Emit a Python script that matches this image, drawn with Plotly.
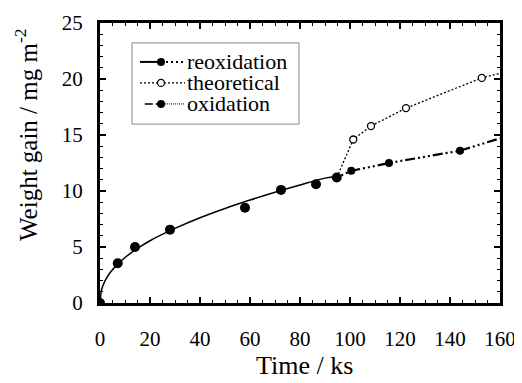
import plotly.graph_objects as go

# Oxidation data (filled circles)
ox_x = [0, 7.1, 14.0, 28.0, 58.0, 72.4, 86.4, 94.7]
ox_y = [0, 3.55, 5.0, 6.55, 8.5, 10.1, 10.6, 11.2]

# Oxidation fitted curve
fit_x = [0, 0.5, 1, 2, 4, 7, 10, 15, 20, 30, 40, 50, 60, 70, 80, 90, 94.7]
fit_y = [0, 1.05, 1.44, 1.97, 2.70, 3.45, 4.06, 4.87, 5.56, 6.66, 7.61, 8.44, 9.19, 9.89, 10.54, 11.15, 11.3]

# Reoxidation
re_x = [94.7, 100.5, 115.6, 144.0, 160.0]
re_y = [11.2, 11.8, 12.5, 13.6, 14.7]
re_marker = [True, True, True, True, False]

# Theoretical
th_x = [94.7, 101.3, 108.4, 122.4, 152.7, 160.0]
th_y = [11.2, 14.6, 15.8, 17.4, 20.1, 20.5]
th_marker = [False, True, True, True, True, False]

x_ticks = [0, 20, 40, 60, 80, 100, 120, 140, 160]
y_ticks = [0, 5, 10, 15, 20, 25]

legend_names = ["reoxidation", "theoretical", "oxidation"]

FONT = "Liberation Serif"

fig = go.Figure()

# theoretical
fig.add_trace(go.Scatter(
    x=th_x, y=th_y, mode="lines", line=dict(color="black", width=1.3, dash="2px,2px"),
    showlegend=False, hoverinfo="skip"))
fig.add_trace(go.Scatter(
    x=[x for x, m in zip(th_x, th_marker) if m], y=[y for y, m in zip(th_y, th_marker) if m],
    mode="markers", marker=dict(symbol="circle", size=7, color="white", line=dict(color="black", width=1.3)),
    showlegend=False))

# reoxidation
fig.add_trace(go.Scatter(
    x=re_x, y=re_y, mode="lines",
    line=dict(color="black", width=2.2, dash="2px,3px,2px,3px,2px,3px,10px,3px"),
    showlegend=False, hoverinfo="skip"))
fig.add_trace(go.Scatter(
    x=[x for x, m in zip(re_x, re_marker) if m], y=[y for y, m in zip(re_y, re_marker) if m],
    mode="markers", marker=dict(symbol="circle", size=8, color="black"), showlegend=False))

# oxidation
fig.add_trace(go.Scatter(
    x=fit_x, y=fit_y, mode="lines", line=dict(color="black", width=1.5, shape="spline"),
    showlegend=False, hoverinfo="skip"))
fig.add_trace(go.Scatter(
    x=ox_x, y=ox_y, mode="markers", marker=dict(symbol="circle", size=10, color="black"),
    showlegend=False))

# ---- manual legend (overlay axes spanning the plot area) ----
leg_y = [0.861, 0.786, 0.711]
sx0, sxm, sx1 = 0.10, 0.1525, 0.2125
fig.add_trace(go.Scatter(x=[sx0, sxm], y=[leg_y[0]] * 2, xaxis="x2", yaxis="y2", mode="lines",
                         line=dict(color="black", width=2), showlegend=False, hoverinfo="skip"))
fig.add_trace(go.Scatter(x=[sxm, sx1], y=[leg_y[0]] * 2, xaxis="x2", yaxis="y2", mode="lines",
                         line=dict(color="black", width=2, dash="2px,3px"), showlegend=False, hoverinfo="skip"))
fig.add_trace(go.Scatter(x=[sxm], y=[leg_y[0]], xaxis="x2", yaxis="y2", mode="markers",
                         marker=dict(symbol="circle", size=8, color="black"), showlegend=False, hoverinfo="skip"))
fig.add_trace(go.Scatter(x=[sx0, sx1], y=[leg_y[1]] * 2, xaxis="x2", yaxis="y2", mode="lines",
                         line=dict(color="black", width=1.2, dash="2px,2px"), showlegend=False, hoverinfo="skip"))
fig.add_trace(go.Scatter(x=[sxm], y=[leg_y[1]], xaxis="x2", yaxis="y2", mode="markers",
                         marker=dict(symbol="circle", size=7, color="white", line=dict(color="black", width=1.3)),
                         showlegend=False, hoverinfo="skip"))
fig.add_trace(go.Scatter(x=[sx0 + 0.012, sxm], y=[leg_y[2]] * 2, xaxis="x2", yaxis="y2", mode="lines",
                         line=dict(color="black", width=1.5, dash="8px,3px"), showlegend=False, hoverinfo="skip"))
fig.add_trace(go.Scatter(x=[sxm, sx1], y=[leg_y[2]] * 2, xaxis="x2", yaxis="y2", mode="lines",
                         line=dict(color="black", width=1, dash="1px,1px"), showlegend=False, hoverinfo="skip"))
fig.add_trace(go.Scatter(x=[sxm], y=[leg_y[2]], xaxis="x2", yaxis="y2", mode="markers",
                         marker=dict(symbol="circle", size=8, color="black"), showlegend=False, hoverinfo="skip"))

for name, yy in zip(legend_names, leg_y):
    fig.add_annotation(text=name, xref="paper", yref="paper", x=0.213, y=yy,
                       xanchor="left", yanchor="middle", showarrow=False,
                       font=dict(size=22, color="black"))

fig.add_shape(type="rect", xref="paper", yref="paper", x0=0.08, x1=0.4975, y0=0.639, y1=0.929,
              line=dict(color="#888", width=1), fillcolor="rgba(0,0,0,0)", layer="below")

axis_common = dict(
    showgrid=False, zeroline=False, showline=True, linecolor="black", linewidth=3,
    mirror="ticks", ticks="inside", ticklen=6, tickwidth=1.5, tickcolor="black",
    tickfont=dict(size=21, color="black"), automargin=False,
)

xaxis = dict(**axis_common, domain=[0, 1], range=[0, 160], tickvals=x_ticks,
             ticktext=[str(v) for v in x_ticks], ticklabelstandoff=15,
             minor=dict(dtick=5, ticks="inside", ticklen=3, tickwidth=1.2, tickcolor="black"))
yaxis = dict(**axis_common, domain=[0, 1], range=[0, 25], tickvals=y_ticks,
             ticktext=[str(v) for v in y_ticks], ticklabelstandoff=10,
             minor=dict(dtick=1, ticks="inside", ticklen=3, tickwidth=1.2, tickcolor="black"))

fig.add_annotation(
    text="Time / ks", showarrow=False,
    xref="paper", yref="paper", x=0.51, y=-0.283, xanchor="center", yanchor="bottom",
    font=dict(size=26, color="black"))
fig.add_annotation(
    text="Weight gain / mg m<sup>-2</sup>", textangle=-90, showarrow=False,
    xref="paper", yref="paper", x=-0.185, y=0.60, xanchor="center", yanchor="middle",
    font=dict(size=25, color="black"))

# page body has an 8px default margin, so the figure is sized/offset to compensate
fig.update_layout(
    width=514, height=375,
    margin=dict(l=92, r=22, t=15, b=80),
    paper_bgcolor="white", plot_bgcolor="white",
    font=dict(family=FONT, color="black"),
    showlegend=False,
    xaxis=xaxis,
    yaxis=yaxis,
    xaxis2=dict(overlaying="x", range=[0, 1], visible=False, fixedrange=True),
    yaxis2=dict(overlaying="y", range=[0, 1], visible=False, fixedrange=True),
)

fig.write_html("out.html")
